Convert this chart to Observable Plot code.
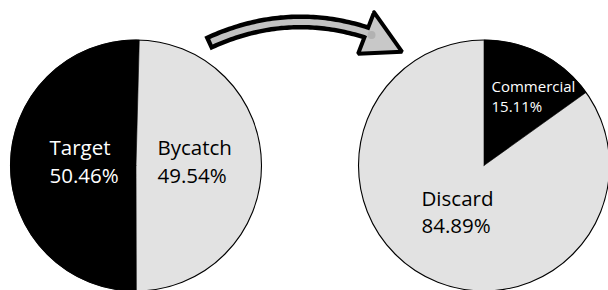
<!DOCTYPE html>
<html><head><meta charset="utf-8">
<script src="https://cdn.jsdelivr.net/npm/d3@7"></script>
<script src="https://cdn.jsdelivr.net/npm/@observablehq/plot@0.6"></script>
<style>body{margin:0;background:#fff} svg{display:block}</style>
</head><body><div id="chart"></div>
<script>
// ---- data ----
const leftCategories = ["Target", "Bycatch"];
const leftValues = [50.46, 49.54];
const rightCategories = ["Commercial", "Discard"];
const rightValues = [15.11, 84.89];

// ---- layout / style ----
const W = 608, H = 290, R = 125.5;
const BLACK = "#000", GRAY = "#e2e2e2";
const pies = [
  {cats: leftCategories, vals: leftValues, cx: 135.5, cy: 165, order: [1, 0], rot: 1.5,
   fills: {Target: BLACK, Bycatch: GRAY},
   labels: {Target: {dx: -86.5, b1: -11, b2: 17, fs: 20.5}, Bycatch: {dx: 21.5, b1: -11, b2: 17, fs: 20.5}}},
  {cats: rightCategories, vals: rightValues, cx: 483.5, cy: 165, order: [0, 1], rot: 0,
   fills: {Commercial: BLACK, Discard: GRAY},
   labels: {Commercial: {dx: 7.5, b1: -74, b2: -54, fs: 15}, Discard: {dx: -62.5, b1: 40, b2: 67, fs: 20.5}}}
];

const marks = [];

// arrow annotation (decorative, quadratic curve)
const A = {p0: [207, 43], c: [285.6, 6.3], p2: [366, 32]};
const bez = t => [
  (1 - t) * (1 - t) * A.p0[0] + 2 * t * (1 - t) * A.c[0] + t * t * A.p2[0],
  (1 - t) * (1 - t) * A.p0[1] + 2 * t * (1 - t) * A.c[1] + t * t * A.p2[1]
];
const shaft = d3.range(0, 61).map(k => bez(k / 60));
const inner = d3.range(0, 61).map(k => bez(0.025 + 0.975 * k / 60)).concat([[371, 34.5]]);
const head = [[373.6, 11.8], [401.6, 51.3], [357.6, 53.2], [373.6, 11.8]];
marks.push(
  Plot.line(shaft, {x: d => d[0], y: d => d[1], stroke: "#000", strokeWidth: 15, strokeLinecap: "butt", curve: "linear"}),
  Plot.line(head, {x: d => d[0], y: d => d[1], fill: "#c8c8c8", stroke: "#000", strokeWidth: 4, strokeLinejoin: "miter", curve: "linear"}),
  Plot.line(inner, {x: d => d[0], y: d => d[1], stroke: "#c2c2c2", strokeWidth: 6, strokeLinecap: "butt", curve: "linear"}),
  Plot.dot([[371, 34.5]], {x: d => d[0], y: d => d[1], r: 4, fill: "#b2b2b2", stroke: "none"})
);

for (const p of pies) {
  const items = p.order.map(i => ({name: p.cats[i], value: p.vals[i]}));
  const a0 = p.rot * Math.PI / 180;
  const arcs = d3.pie().sort(null).value(d => d.value).startAngle(a0).endAngle(a0 + 2 * Math.PI)(items);
  // gray slices first, then black
  const sorted = arcs.slice().sort((a, b) => (p.fills[a.data.name] === GRAY ? -1 : 1) - (p.fills[b.data.name] === GRAY ? -1 : 1));
  for (const a of sorted) {
    const n = Math.max(2, Math.ceil((a.endAngle - a.startAngle) / (Math.PI / 360)));
    const pts = [{x: p.cx, y: p.cy}];
    for (let k = 0; k <= n; k++) {
      const t = a.startAngle + (a.endAngle - a.startAngle) * k / n;
      pts.push({x: p.cx + R * Math.sin(t), y: p.cy - R * Math.cos(t)});
    }
    pts.push({x: p.cx, y: p.cy});
    const f = p.fills[a.data.name];
    marks.push(Plot.line(pts, {x: "x", y: "y", fill: f, stroke: f, strokeWidth: f === BLACK ? 0.6 : 0, curve: "linear"}));
  }
  marks.push(Plot.dot([p], {x: "cx", y: "cy", r: R, fill: "none", stroke: "#000", strokeWidth: 1.1}));
  // labels
  const lab = [];
  p.cats.forEach((c, i) => {
    const L = p.labels[c];
    const col = p.fills[c] === BLACK ? "#fff" : "#000";
    lab.push({text: c, x: p.cx + L.dx, y: p.cy + L.b1 - 0.32 * L.fs, fs: L.fs, col});
    lab.push({text: p.vals[i].toFixed(2) + "%", x: p.cx + L.dx, y: p.cy + L.b2 - 0.32 * L.fs, fs: L.fs, col});
  });
  for (const fs of [15, 20.5]) {
    const sub = lab.filter(d => d.fs === fs);
    if (sub.length) marks.push(Plot.text(sub, {x: "x", y: "y", text: "text", fill: d => d.col, fontSize: fs, textAnchor: "start", lineAnchor: "middle"}));
  }
}

const chart = Plot.plot({
  width: W, height: H,
  margin: 0,
  x: {domain: [0, W], range: [0, W], axis: null},
  y: {domain: [0, H], range: [0, H], axis: null},
  color: {type: "identity"},
  style: {fontFamily: "'Open Sans', sans-serif", background: "#fff"},
  marks
});
document.getElementById("chart").append(chart);
</script>
</body></html>
